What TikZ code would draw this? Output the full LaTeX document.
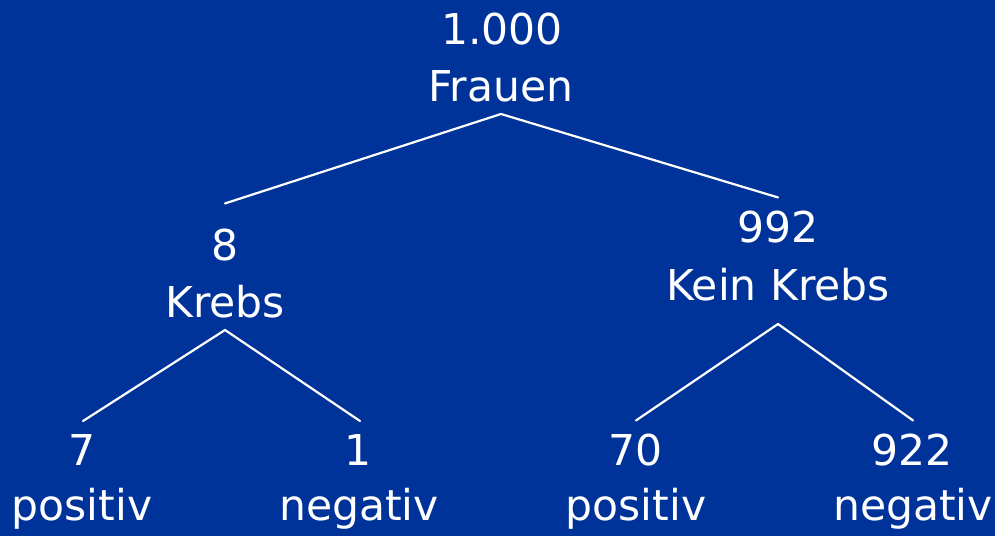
\documentclass[tikz,border=0pt]{standalone}
\usepackage{fontspec}
\setmainfont{DejaVu Sans}
\definecolor{slideblue}{RGB}{0,51,153}
\begin{document}
\begin{tikzpicture}[x=1pt,y=1pt,
  lbl/.style={text=white,inner sep=0pt,outer sep=0pt,anchor=base,
    font=\fontsize{42.5}{51}\selectfont},
  branch/.style={draw=white,line width=2.2pt,line cap=round,line join=round}]
  % background
  \fill[slideblue] (0,0) rectangle (995,536);
  \useasboundingbox (0,0) rectangle (995,536);

  % root
  \node[lbl] (n0) at (502,491) {1.000};
  \node[lbl] (t0) at (501,434) {Frauen};
  % second level
  \node[lbl] (n1) at (225,276) {8};
  \node[lbl] (t1) at (225,219) {Krebs};
  \node[lbl] (n2) at (778,293) {992};
  \node[lbl] (t2) at (778,236) {Kein Krebs};
  % leaves
  \node[lbl] (n3) at (82,71)  {7};
  \node[lbl] (t3) at (82,16)  {positiv};
  \node[lbl] (n4) at (358,71) {1};
  \node[lbl] (t4) at (359,16) {negativ};
  \node[lbl] (n5) at (636,71) {70};
  \node[lbl] (t5) at (636,16) {positiv};
  \node[lbl] (n6) at (912,71) {922};
  \node[lbl] (t6) at (913,16) {negativ};

  % branches
  \draw[branch] ([yshift=25pt]n1.north) -- ([yshift=-12pt]t0.base) -- ([yshift=14pt]n2.north);
  \draw[branch] ([xshift=1pt,yshift=13pt]n3.north) -- ([yshift=-13pt]t1.base) -- ([xshift=2pt,yshift=13pt]n4.north);
  \draw[branch] ([yshift=13pt]n5.north) -- ([yshift=-24pt]t2.base) -- ([xshift=1pt,yshift=13pt]n6.north);
\end{tikzpicture}
\end{document}
